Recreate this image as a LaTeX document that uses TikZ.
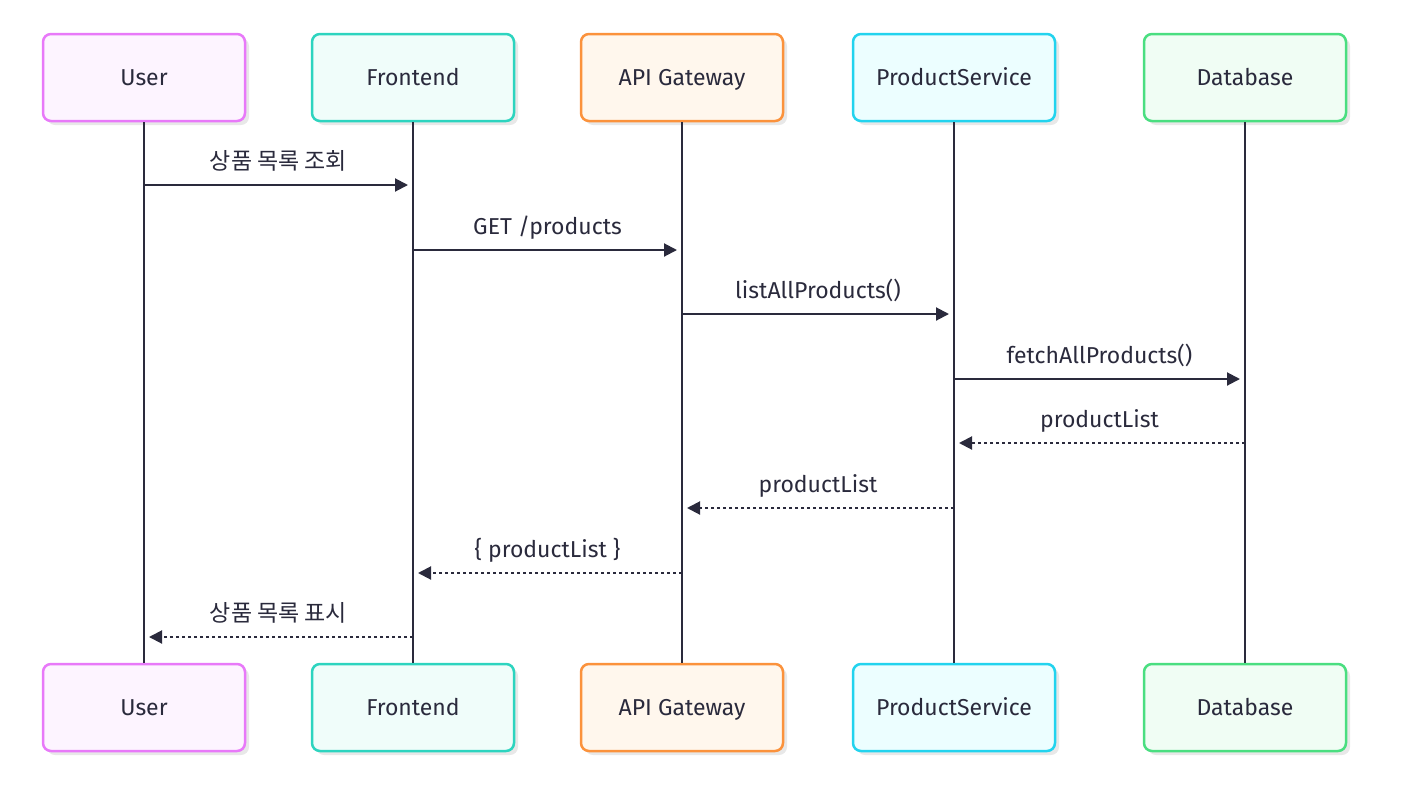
\documentclass[tikz,border=0pt]{standalone}
\usepackage{fontspec}
\setmainfont{Fira Sans}
\newfontfamily\kofont{Noto Sans CJK KR}
\usetikzlibrary{arrows.meta,shadows}
\definecolor{ink}{HTML}{2A2A3C}
\definecolor{userline}{HTML}{E879F9}
\definecolor{userfill}{HTML}{FDF4FF}
\definecolor{frontline}{HTML}{2DD4BF}
\definecolor{frontfill}{HTML}{F0FDFA}
\definecolor{gateline}{HTML}{FB923C}
\definecolor{gatefill}{HTML}{FFF7ED}
\definecolor{prodline}{HTML}{22D3EE}
\definecolor{prodfill}{HTML}{ECFEFF}
\definecolor{dbline}{HTML}{4ADE80}
\definecolor{dbfill}{HTML}{F0FDF4}
\tikzset{
  actor/.style={draw, line width=2.5pt, rounded corners=8pt,
    minimum width=202pt, minimum height=87pt, text=ink,
    font=\fontsize{23}{27}\selectfont, text height=19pt, text depth=3pt,
    drop shadow={shadow xshift=4pt, shadow yshift=-4pt, fill=black!9, opacity=1}},
  lifeline/.style={draw=ink, line width=2.5pt},
  msg/.style={draw=ink, line width=2pt, -{Triangle[length=13pt,width=13pt]}, shorten >=5pt},
  reply/.style={msg, dash pattern=on 3pt off 3pt},
  lbl/.style={text=ink, font=\fontsize{23}{27}\selectfont, text height=16pt, text depth=5pt,
    midway, above=6pt}
}
\begin{document}
\begin{tikzpicture}[x=1pt,y=-1pt]
  \useasboundingbox (0,0) rectangle (1414,793);
  % participants, top row
  \node[actor, draw=userline, fill=userfill] (user) at (144,77.5) {User};
  \node[actor, draw=frontline, fill=frontfill] (front) at (413,77.5) {Frontend};
  \node[actor, draw=gateline, fill=gatefill] (gate) at (682,77.5) {API Gateway};
  \node[actor, draw=prodline, fill=prodfill] (prod) at (954,77.5) {ProductService};
  \node[actor, draw=dbline, fill=dbfill] (db) at (1245,77.5) {Database};
  % participants, bottom row
  \node[actor, draw=userline, fill=userfill] (user2) at (144,707.5) {User};
  \node[actor, draw=frontline, fill=frontfill] (front2) at (413,707.5) {Frontend};
  \node[actor, draw=gateline, fill=gatefill] (gate2) at (682,707.5) {API Gateway};
  \node[actor, draw=prodline, fill=prodfill] (prod2) at (954,707.5) {ProductService};
  \node[actor, draw=dbline, fill=dbfill] (db2) at (1245,707.5) {Database};
  \begin{scope}[lifeline]
    \draw (user) -- (user2);
    \draw (front) -- (front2);
    \draw (gate) -- (gate2);
    \draw (prod) -- (prod2);
    \draw (db) -- (db2);
  \end{scope}
  % messages
  \draw[msg] (user |- 0,185) -- node[lbl] {\kofont 상품 목록 조회} (front |- 0,185);
  \draw[msg] (front |- 0,250) -- node[lbl] {GET /products} (gate |- 0,250);
  \draw[msg] (gate |- 0,314) -- node[lbl] {listAllProducts()} (prod |- 0,314);
  \draw[msg] (prod |- 0,379) -- node[lbl] {fetchAllProducts()} (db |- 0,379);
  \draw[reply] (db |- 0,443) -- node[lbl] {productList} (prod |- 0,443);
  \draw[reply] (prod |- 0,508) -- node[lbl] {productList} (gate |- 0,508);
  \draw[reply] (gate |- 0,573) -- node[lbl] {\{ productList \}} (front |- 0,573);
  \draw[reply] (front |- 0,637) -- node[lbl] {\kofont 상품 목록 표시} (user |- 0,637);
\end{tikzpicture}
\end{document}
